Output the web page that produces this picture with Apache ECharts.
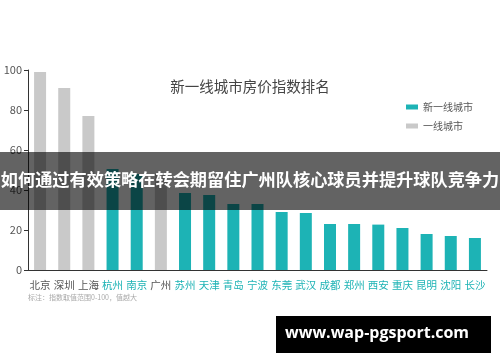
<!DOCTYPE html>
<html>
<head>
<meta charset="utf-8">
<script src="https://cdn.jsdelivr.net/npm/echarts@6/dist/echarts.min.js"></script>
<style>html,body{margin:0;padding:0;background:#fff}#c{width:500px;height:362px}</style>
</head>
<body>
<div id="c"></div>
<script>
const categories = ['北京','深圳','上海','杭州','南京','广州','苏州','天津','青岛','宁波','东莞','武汉','成都','郑州','西安','重庆','昆明','沈阳','长沙'];
const tiers = ['一线城市','一线城市','一线城市','新一线城市','新一线城市','一线城市','新一线城市','新一线城市','新一线城市','新一线城市','新一线城市','新一线城市','新一线城市','新一线城市','新一线城市','新一线城市','新一线城市','新一线城市','新一线城市'];
const values = [99, 91, 77, 50.5, 48, 48, 38.5, 37.5, 33, 33, 29, 28.5, 23, 23, 22.7, 21, 18, 17, 16];
const seriesNames = ['新一线城市', '一线城市'];
const yTicks = [0, 20, 40, 60, 80, 100];

const TEAL = '#1db3b5', GRAY = '#c9c9c9';
const FONT = '"Noto Sans CJK SC", "Noto Sans", sans-serif';

const chart = echarts.init(document.getElementById('c'));
chart.setOption({
  animation: false,
  textStyle: { fontFamily: FONT },
  title: {
    text: '新一线城市房价指数排名', left: 'center', top: 74,
    textStyle: { fontSize: 14.5, fontWeight: 'normal', color: '#444', fontFamily: FONT }
  },
  legend: {
    orient: 'vertical', right: 22, top: 97, itemWidth: 12, itemHeight: 5, itemGap: 9,
    icon: 'rect',
    textStyle: { fontSize: 10, color: '#555', fontFamily: FONT },
    data: seriesNames
  },
  grid: { left: 28, right: 13, top: 70, bottom: 92 },
  xAxis: {
    type: 'category', data: categories,
    axisLine: { lineStyle: { color: '#333', width: 1 } },
    axisTick: { inside: true, length: 4, lineStyle: { color: '#333' } },
    axisLabel: {
      interval: 0, margin: 10, fontSize: 10.5,
      formatter: function (v, i) { return (tiers[i] === '一线城市' ? '{g|' : '{t|') + v + '}'; },
      rich: { g: { color: '#555', fontSize: 10.5, fontFamily: FONT }, t: { color: TEAL, fontSize: 10.5, fontFamily: FONT } }
    }
  },
  yAxis: {
    type: 'value', min: yTicks[0], max: yTicks[yTicks.length - 1], interval: 20,
    axisLine: { show: true, lineStyle: { color: '#333' } },
    axisTick: { show: true, length: 4, lineStyle: { color: '#333' } },
    splitLine: { show: false },
    axisLabel: { fontSize: 11, color: '#555', margin: 6, fontFamily: FONT }
  },
  series: seriesNames.map(function (name) {
    return {
      name: name, type: 'bar', barWidth: 12, barGap: '-100%',
      itemStyle: { color: name === '新一线城市' ? TEAL : GRAY },
      data: values.map(function (v, i) { return tiers[i] === name ? v : '-'; })
    };
  }),
  graphic: [
    { type: 'text', left: 28, top: 294, style: { text: '标注：指数取值范围0-100，值越大', fontSize: 7, fill: '#aaa', fontFamily: FONT } },
    { type: 'rect', left: 0, top: 152, shape: { width: 500, height: 58 }, style: { fill: 'rgba(0,0,0,0.61)' }, z: 100 },
    { type: 'text', left: 'center', top: 171, z: 101, style: { text: '如何通过有效策略在转会期留住广州队核心球员并提升球队竞争力', fontSize: 17.2, fontWeight: 'bold', fill: '#fff', fontFamily: FONT } },
    { type: 'rect', left: 276, top: 316, shape: { width: 215, height: 37 }, style: { fill: '#000' }, z: 100 },
    { type: 'text', left: 285, top: 325, z: 101, style: { text: 'www.wap-pgsport.com', fontSize: 16, fontWeight: 'bold', fill: '#fff', fontFamily: '"Open Sans", "DejaVu Sans", sans-serif' } }
  ]
});
</script>
</body>
</html>
